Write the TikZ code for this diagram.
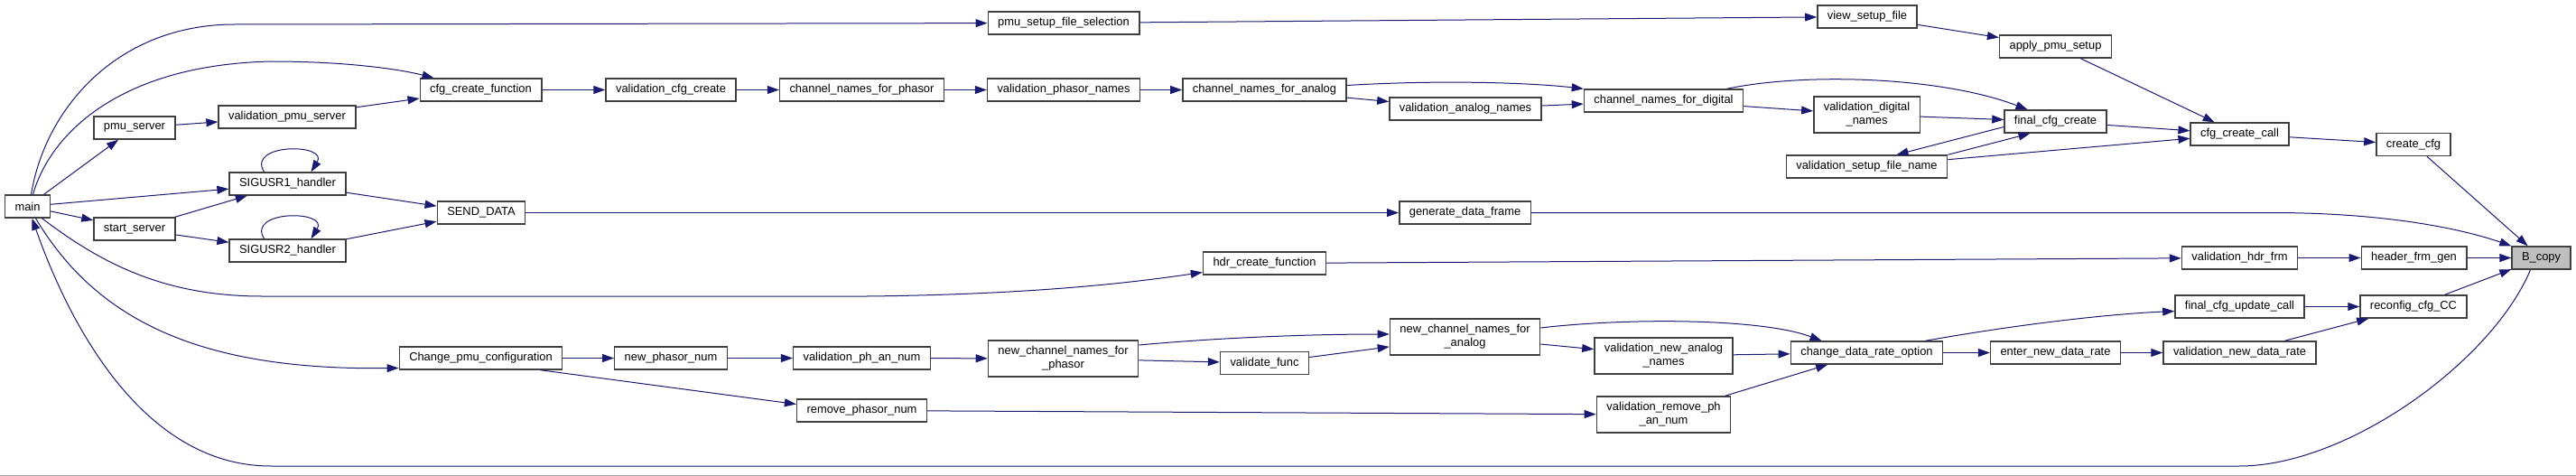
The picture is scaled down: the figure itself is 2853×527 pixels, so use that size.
\documentclass[tikz,border=0pt]{standalone}
\usepackage{fontspec}
\usetikzlibrary{positioning,calc}
\usetikzlibrary{arrows.meta}
\newfontfamily\dotfont{Liberation Sans}
\definecolor{EdgeNavy}{RGB}{25,25,112}
\definecolor{NodeGray}{RGB}{191,191,191}
\definecolor{FrameGray}{RGB}{64,64,64}
\tikzset{
  fn/.style={draw=FrameGray,fill=white,line width=1.4pt,inner xsep=11pt,inner ysep=0pt,
    minimum height=25pt,align=center,font={\dotfont\fontsize{12.9}{15}\selectfont}},
  fntwo/.style={fn,minimum height=40pt},
  callee/.style={fn,fill=NodeGray},
}
\tikzset{call/.style={draw=EdgeNavy,line width=1pt,-{Triangle[length=13pt,width=9pt]}}}

\begin{document}
\begin{tikzpicture}[x=1pt,y=-1pt]
\useasboundingbox (0,0) rectangle (2853,527);
\draw[black!35,line width=1pt] (0,526) -- (2853,526);
% callers, left to right
\node[fn] (main) at (30.5,228.5) {main};
\node[fn] (pmuserver) at (149,141.5) {pmu\_server};
\node[fn] (starts) at (149,253.5) {start\_server};
\node[fn] (valpmuserver) at (318,129.5) {validation\_pmu\_server};
\node[fn] (sigone) at (318.5,203.5) {SIGUSR1\_handler};
\node[fn] (sigtwo) at (318.5,277.5) {SIGUSR2\_handler};
\node[fn] (cfgcreatefn) at (532.5,99.5) {cfg\_create\_function};
\node[fn] (senddata) at (533,235.5) {SEND\_DATA};
\node[fn] (changepmu) at (532.5,396.5) {Change\_pmu\_configuration};
\node[fn] (valcfgcreate) at (743,99.5) {validation\_cfg\_create};
\node[fn] (newphasornum) at (743,396.5) {new\_phasor\_num};
\node[fn] (chphasor) at (954.5,99.5) {channel\_names\_for\_phasor};
\node[fn] (valphannum) at (954.5,396.5) {validation\_ph\_an\_num};
\node[fn] (removephasor) at (954.5,454.5) {remove\_phasor\_num};
\node[fn] (pmusetupsel) at (1178,25.5) {pmu\_setup\_file\_selection};
\node[fn] (valphasornames) at (1178,99.5) {validation\_phasor\_names};
\node[fntwo] (newchphasor) at (1177.5,397) {new\_channel\_names\_for\\\_phasor};
\node[fn] (chanalog) at (1400.5,99.5) {channel\_names\_for\_analog};
\node[fn] (hdrcreate) at (1400.5,291.5) {hdr\_create\_function};
\node[fn] (validatefunc) at (1400.5,402) {validate\_func};
\node[fn] (valanalog) at (1623,120.5) {validation\_analog\_names};
\node[fn] (gendata) at (1622.5,235.5) {generate\_data\_frame};
\node[fntwo] (newchanalog) at (1622.5,373) {new\_channel\_names\_for\\\_analog};
\node[fn] (chdigital) at (1842.5,111.5) {channel\_names\_for\_digital};
\node[fntwo] (valnewanalog) at (1842.5,394) {validation\_new\_analog\\\_names};
\node[fntwo] (valremove) at (1842.5,459) {validation\_remove\_ph\\\_an\_num};
\node[fn] (viewsetup) at (2068,18.5) {view\_setup\_file};
\node[fntwo] (valdigital) at (2067.5,127) {validation\_digital\\\_names};
\node[fn] (valsetupname) at (2067.5,184.5) {validation\_setup\_file\_name};
\node[fn] (changerate) at (2067.5,390.5) {change\_data\_rate\_option};
\node[fn] (applysetup) at (2276.5,51.5) {apply\_pmu\_setup};
\node[fn] (finalcfg) at (2276.5,134.5) {final\_cfg\_create};
\node[fn] (enterrate) at (2276.5,390.5) {enter\_new\_data\_rate};
\node[fn] (cfgcall) at (2480.5,148.5) {cfg\_create\_call};
\node[fn] (valhdr) at (2480.5,285.5) {validation\_hdr\_frm};
\node[fn] (finalupdate) at (2480.5,339.5) {final\_cfg\_update\_call};
\node[fn] (valnewrate) at (2480.5,390.5) {validation\_new\_data\_rate};
\node[fn] (createcfg) at (2673,160) {create\_cfg};
\node[fn] (headerfrm) at (2673.5,285.5) {header\_frm\_gen};
\node[fn] (reconfig) at (2673,339.5) {reconfig\_cfg\_CC};
\node[callee] (bcopy) at (2814.5,285.5) {B\_copy};
% bends of the long edges
\coordinate (topbend) at (260,27);
\coordinate (cfgbend) at (300,68);
\coordinate (hdrbendA) at (290,328);
\coordinate (hdrbendB) at (960,328);
\coordinate (lowbendA) at (2480,516);
\coordinate (lowbendB) at (300,516);
\coordinate (genbend) at (2520,235.5);
% from main
\draw[call] ([xshift=4pt]main.north) .. controls (50,120) and (130,27) .. (topbend) -- (pmusetupsel);
\draw[call] ([xshift=6pt]main.north) .. controls (55,150) and (130,72) .. (cfgbend) .. controls (380,68) and (440,76) .. ([xshift=16pt]cfgcreatefn.north west);
\draw[call] (main) -- (pmuserver);
\draw[call] (main) -- (sigone);
\draw[call] (main) -- (starts);
\draw[call] ([xshift=16pt]main.south) .. controls (110,290) and (180,328) .. (hdrbendA) -- (hdrbendB) .. controls (1150,326) and (1260,312) .. ([yshift=-10pt]hdrcreate.west);
\draw[call] ([xshift=9pt]main.south) .. controls (110,360) and (230,410) .. ([yshift=-11pt]changepmu.west);
\draw[call] ([xshift=-12pt]bcopy.south) .. controls (2760,400) and (2600,516) .. (lowbendA) -- (lowbendB) .. controls (150,516) and (70,340) .. ([xshift=5pt]main.south);
% servers and handlers
\draw[call] (pmuserver) -- (valpmuserver);
\draw[call] (valpmuserver) -- (cfgcreatefn);
\draw[call] (starts) -- (sigone);
\draw[call] (starts) -- (sigtwo);
\draw[call] ([xshift=-26pt]sigone.north) .. controls +(-20,-32) and +(20,-32) .. ([xshift=26pt]sigone.north);
\draw[call] ([xshift=-26pt]sigtwo.north) .. controls +(-20,-32) and +(20,-32) .. ([xshift=26pt]sigtwo.north);
\draw[call] (sigone) -- (senddata);
\draw[call] (sigtwo) -- (senddata);
% cfg chain
\draw[call] (cfgcreatefn) -- (valcfgcreate);
\draw[call] (valcfgcreate) -- (chphasor);
\draw[call] (chphasor) -- (valphasornames);
\draw[call] (valphasornames) -- (chanalog);
\draw[call] ([yshift=5pt]chanalog.east) .. controls (1600,88) and (1700,92) .. (chdigital.north west);
\draw[call] (chanalog) -- (valanalog);
\draw[call] (valanalog) -- (chdigital);
\draw[call] ([xshift=70pt]chdigital.north) .. controls (2000,80) and (2150,85) .. ([xshift=-31pt]finalcfg.north);
\draw[call] (chdigital) -- (valdigital);
\draw[call] (valdigital) -- (finalcfg);
\draw[call] ([yshift=-6pt]finalcfg.west) -- ([xshift=33pt]valsetupname.north);
\draw[call] (valsetupname.north east) -- ([xshift=-28pt]finalcfg.south);
\draw[call] (finalcfg) -- (cfgcall);
\draw[call] (valsetupname) -- (cfgcall);
\draw[call] (pmusetupsel) -- (viewsetup);
\draw[call] (viewsetup) -- (applysetup);
\draw[call] (applysetup) -- (cfgcall);
\draw[call] (cfgcall) -- (createcfg);
\draw[call] (createcfg) -- (bcopy);
% data and header frames
\draw[call] (senddata) -- (gendata);
\draw[call] (gendata) -- (genbend) .. controls (2660,236) and (2740,258) .. (bcopy.north west);
\draw[call] (hdrcreate) -- (valhdr);
\draw[call] (valhdr) -- (headerfrm);
\draw[call] (headerfrm) -- (bcopy);
% reconfiguration
\draw[call] (changepmu) -- (newphasornum);
\draw[call] (newphasornum) -- (valphannum);
\draw[call] (valphannum) -- (newchphasor);
\draw[call] ([xshift=66pt]changepmu.south) -- ([yshift=7pt]removephasor.west);
\draw[call] (removephasor) -- (valremove);
\draw[call] (valremove) -- (changerate);
\draw[call] ([yshift=15pt]newchphasor.east) .. controls (1360,373) and (1460,370) .. ([yshift=3pt]newchanalog.west);
\draw[call] (newchphasor) -- (validatefunc);
\draw[call] (validatefunc) -- (newchanalog);
\draw[call] ([yshift=10pt]newchanalog.east) .. controls (1800,352) and (1950,352) .. ([xshift=-50pt]changerate.north);
\draw[call] (newchanalog) -- (valnewanalog);
\draw[call] (valnewanalog) -- (changerate);
\draw[call] ([xshift=65pt]changerate.north) .. controls (2230,360) and (2330,348) .. ([yshift=-5pt]finalupdate.west);
\draw[call] (changerate) -- (enterrate);
\draw[call] (enterrate) -- (valnewrate);
\draw[call] (valnewrate) -- (reconfig);
\draw[call] (finalupdate) -- (reconfig);
\draw[call] (reconfig) -- (bcopy);
\end{tikzpicture}
\end{document}
